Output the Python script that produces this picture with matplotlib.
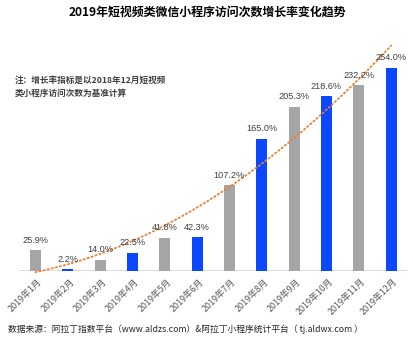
import numpy as np
import matplotlib.pyplot as plt
from matplotlib.transforms import offset_copy

plt.rcParams['font.family'] = ['Liberation Sans', 'Noto Sans CJK SC', 'DejaVu Sans']

months = ['2019年1月', '2019年2月', '2019年3月', '2019年4月', '2019年5月', '2019年6月',
          '2019年7月', '2019年8月', '2019年9月', '2019年10月', '2019年11月', '2019年12月']
growth = [25.9, 2.2, 14.0, 22.5, 41.8, 42.3, 107.2, 165.0, 205.3, 218.6, 232.2, 254.0]
bar_colors = ['#A5A5A5', '#0A47FF'] * 6

fig = plt.figure(figsize=(4.14, 3.40), dpi=100)
ax = fig.add_axes([19.3 / 414, 69 / 340, 388 / 414, 231 / 340])

x = np.arange(len(months))
ax.bar(x, growth, width=0.34, color=bar_colors, zorder=2)

# quadratic trend line (like the Excel polynomial trendline)
coef = np.polyfit(x + 1, growth, 2)
xs = np.linspace(0, len(months) - 1, 200)
ax.plot(xs, np.polyval(coef, xs + 1), color='#ED7D31', lw=1.3,
        linestyle=(0, (0.7, 1.6)), dash_capstyle='round', zorder=3, clip_on=False)

for xi, v in zip(x, growth):
    ax.annotate(f'{v:.1f}%', (xi, v), xytext=(0, 4), textcoords='offset points',
                ha='center', va='bottom', fontsize=6.6, color='#404040', zorder=4)

ax.set_xlim(-0.5, len(months) - 0.5)
ax.set_ylim(0, 288.75)
ax.axhline(0, color='#D9D9D9', lw=2, zorder=1)
ax.set_xticks([])
ax.set_yticks([])
for s in ax.spines.values():
    s.set_visible(False)

trans = offset_copy(ax.transData, fig=fig, x=5, y=-9, units='dots')
for xi, m in zip(x, months):
    ax.text(xi, 0, m, transform=trans, rotation=45, ha='right', va='center',
            rotation_mode='anchor', fontsize=6.4, color='#595959',
            family=['Noto Sans CJK SC', 'DejaVu Sans'])

fig.text(0.5, 1 - 12 / 340, '2019年短视频类微信小程序访问次数增长率变化趋势',
         ha='center', va='center', fontsize=8.6, fontweight='bold', color='#000000',
         family=['Noto Sans CJK SC', 'DejaVu Sans'])
fig.text(15 / 414, 1 - 80 / 340, '注：增长率指标是以2018年12月短视频',
         ha='left', va='center', fontsize=6.2, fontweight='bold', color='#404040',
         family=['Noto Sans CJK SC', 'DejaVu Sans'])
fig.text(15 / 414, 1 - 93 / 340, '类小程序访问次数为基准计算',
         ha='left', va='center', fontsize=6.2, fontweight='bold', color='#404040',
         family=['Noto Sans CJK SC', 'DejaVu Sans'])
fig.text(8 / 414, 1 - 329 / 340,
         '数据来源：阿拉丁指数平台（www.aldzs.com）&阿拉丁小程序统计平台（ tj.aldwx.com ）',
         ha='left', va='center', fontsize=6.3, color='#262626',
         family=['Noto Sans CJK SC', 'DejaVu Sans'])

fig.savefig('out.png', dpi=100)
